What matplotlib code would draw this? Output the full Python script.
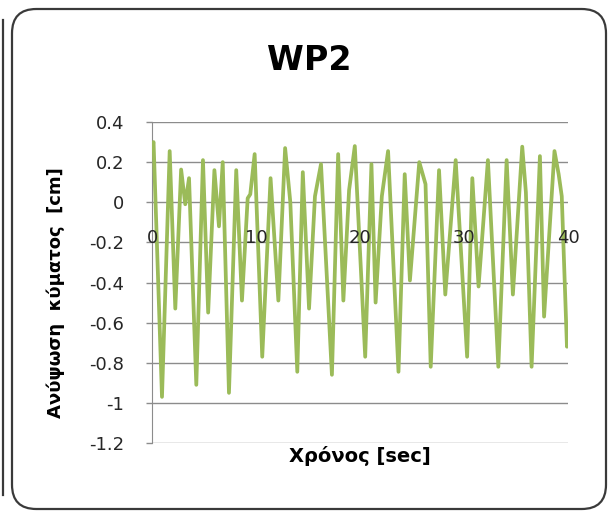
import matplotlib
matplotlib.use("Agg")
import matplotlib.pyplot as plt
from matplotlib.patches import FancyBboxPatch

plt.rcParams['font.family'] = ['DejaVu Sans']

# wave gauge WP2 (peaks, troughs, shoulders)
time_s = [0, 0.15, 0.96, 1.7, 2.24, 2.8, 3.2, 3.56, 4.26, 4.9,
          5.4, 6.0, 6.44, 6.8, 7.4, 8.1, 8.65, 9.2, 9.45, 9.87,
          10.6, 11.4, 12.15, 12.8, 13.3, 13.97, 14.5, 15.1, 15.67, 16.25,
          17.3, 17.9, 18.4, 18.95, 19.5, 20.5, 21.1, 21.5, 22.1, 22.7,
          23.7, 24.3, 24.8, 25.7, 26.3, 26.8, 27.6, 28.2, 29.2, 30.3,
          30.8, 31.4, 32.3, 33.3, 34.1, 34.7, 35.6, 35.95, 36.5, 37.3,
          37.7, 38.7, 39.1, 39.4, 39.9, 40.0]
elev_cm = [0.28, 0.30, -0.97, 0.255, -0.53, 0.163, -0.01, 0.12, -0.91, 0.21,
           -0.55, 0.16, -0.12, 0.20, -0.95, 0.16, -0.49, 0.02, 0.04, 0.24,
           -0.77, 0.12, -0.49, 0.27, 0.0, -0.845, 0.15, -0.53, 0.03, 0.19,
           -0.86, 0.24, -0.49, 0.06, 0.28, -0.77, 0.19, -0.50, 0.03, 0.255,
           -0.845, 0.14, -0.39, 0.20, 0.09, -0.82, 0.16, -0.46, 0.21, -0.77,
           0.12, -0.42, 0.21, -0.82, 0.21, -0.46, 0.277, 0.05, -0.82, 0.23,
           -0.57, 0.255, 0.14, 0.03, -0.72, -0.69]

yticks = [0.4, 0.2, 0, -0.2, -0.4, -0.6, -0.8, -1, -1.2]
ytick_labels = ['0.4', '0.2', '0', '-0.2', '-0.4', '-0.6', '-0.8', '-1', '-1.2']
xticks = [0, 10, 20, 30, 40]

W, H = 608, 514
fig = plt.figure(figsize=(W / 100, H / 100), dpi=100)

# rounded chart border + edge of the neighbouring chart
fig.add_artist(plt.Line2D([3 / W, 3 / W], [1 - 20 / H, 1 - 495 / H], transform=fig.transFigure,
                          color='#3a3a3a', lw=1.6))
border = FancyBboxPatch((12 / W, 1 - 509 / H), (606 - 12) / W, (509 - 9) / H,
                        boxstyle="round,pad=0,rounding_size=0.04",
                        transform=fig.transFigure, fill=False,
                        edgecolor='#3a3a3a', lw=1.6, mutation_aspect=W / H)
fig.add_artist(border)

ax = fig.add_axes([152 / W, 1 - 443 / H, (568 - 152) / W, (443 - 122) / H])
ax.plot(time_s, elev_cm, color='#9BBB59', lw=2.7, solid_joinstyle='round', zorder=3)

ax.set_xlim(0, 40)
ax.set_ylim(-1.2, 0.4)
ax.set_yticks(yticks)
ax.set_yticklabels(ytick_labels)
ax.set_xticks(xticks)
ax.grid(axis='y', color='#8c8c8c', lw=1.0)
ax.set_axisbelow(True)
ax.xaxis.set_zorder(5)  # x labels sit on top of the line, like Excel

for s in ['top', 'right']:
    ax.spines[s].set_visible(False)
ax.spines['left'].set_color('#8c8c8c')
ax.spines['bottom'].set_position(('data', 0))
ax.spines['bottom'].set_visible(False)

ax.tick_params(axis='y', length=4, width=1, color='#8c8c8c', pad=16, labelsize=13, labelcolor='#262626')
ax.tick_params(axis='x', length=0, pad=19, labelsize=13, labelcolor='#262626')

ax.set_ylabel('Ανύψωση  κύματος  [cm]', fontsize=13, fontweight='bold')
ax.yaxis.set_label_coords(-0.21, 0.47)
ax.set_xlabel('Χρόνος [sec]', fontsize=14, fontweight='bold')
ax.xaxis.set_label_coords(0.5, -0.01)

fig.text(309 / W, 1 - 60 / H, 'WP2', ha='center', va='center', fontsize=24, fontweight='bold')

fig.savefig('out.png', dpi=100)
